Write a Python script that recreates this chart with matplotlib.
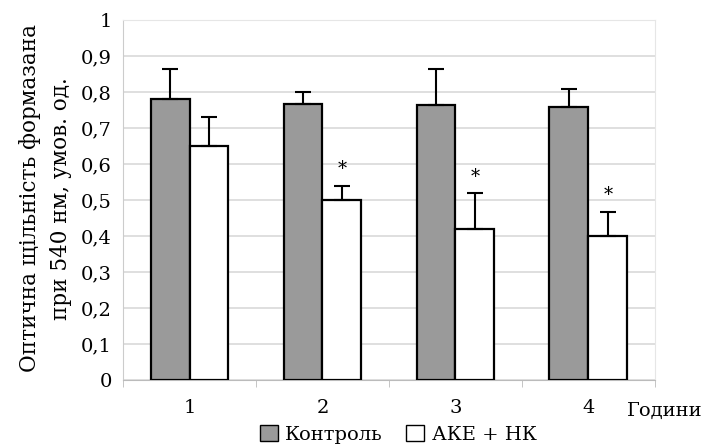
import numpy as np
import matplotlib
matplotlib.use("Agg")
import matplotlib.pyplot as plt
from matplotlib.patches import Patch

hours = ["1", "2", "3", "4"]
control = [0.78, 0.767, 0.763, 0.758]
control_err = [0.085, 0.033, 0.10, 0.05]
ake = [0.65, 0.50, 0.42, 0.40]
ake_err = [0.082, 0.04, 0.10, 0.068]
star = [False, True, True, True]
yticks = [0, 0.1, 0.2, 0.3, 0.4, 0.5, 0.6, 0.7, 0.8, 0.9, 1.0]

plt.rcParams['font.family'] = ['DejaVu Serif']

fig = plt.figure(figsize=(7.05, 4.46), dpi=100)
ax = fig.add_axes([0.1745, 0.148, 0.7545, 0.807])

x = np.arange(len(hours))
w = 0.293
ax.bar(x - w/2, control, w, color='#9a9a9a', edgecolor='black', linewidth=1.6, zorder=3)
ax.bar(x + w/2, ake, w, color='white', edgecolor='black', linewidth=1.6, zorder=3)
ax.errorbar(x - w/2, control, yerr=[np.zeros(4), control_err], fmt='none',
            ecolor='black', elinewidth=1.5, capsize=6, capthick=1.5, zorder=4)
ax.errorbar(x + w/2, ake, yerr=[np.zeros(4), ake_err], fmt='none',
            ecolor='black', elinewidth=1.5, capsize=6, capthick=1.5, zorder=4)
for i in range(len(hours)):
    if star[i]:
        ax.text(x[i] + w/2, ake[i] + ake_err[i] + 0.045, "*", ha='center', va='center',
                fontsize=13, zorder=5)

ax.set_xlim(-0.5, 3.5)
ax.set_ylim(0, 1)
ax.set_yticks(yticks)
ax.set_yticklabels([("%g" % v).replace('.', ',') for v in yticks], fontsize=14)
ax.set_xticks(x)
ax.set_xticklabels(hours, fontsize=14)
ax.set_xticks(np.arange(-0.5, 4, 1), minor=True)
ax.tick_params(axis='x', which='major', length=0, pad=14)
ax.tick_params(axis='x', which='minor', length=5, color='#bbbbbb')
ax.tick_params(axis='y', length=0, pad=8)
ax.grid(axis='y', color='#d9d9d9', linewidth=1.2, zorder=0)
for s in ['top', 'right']:
    ax.spines[s].set_color('#e6e6e6')
ax.spines['left'].set_color('#cccccc')
ax.spines['bottom'].set_color('#bbbbbb')

fig.text(0.042, 0.555, "Оптична щільність формазана", rotation=90, ha='center', va='center', fontsize=15.5)
fig.text(0.087, 0.555, "при 540 нм, умов. од.", rotation=90, ha='center', va='center', fontsize=15.5)
fig.text(0.997, 0.078, "Години", ha='right', va='center', fontsize=14)

handles = [Patch(facecolor='#9a9a9a', edgecolor='black', label='Контроль'),
           Patch(facecolor='white', edgecolor='black', label='АКЕ + НК')]
fig.legend(handles=handles, loc='center', bbox_to_anchor=(0.565, 0.026), ncol=2, frameon=False,
           fontsize=14, handlelength=0.9, handleheight=0.9, handletextpad=0.4, columnspacing=1.2)

fig.savefig("out.png", dpi=100)
